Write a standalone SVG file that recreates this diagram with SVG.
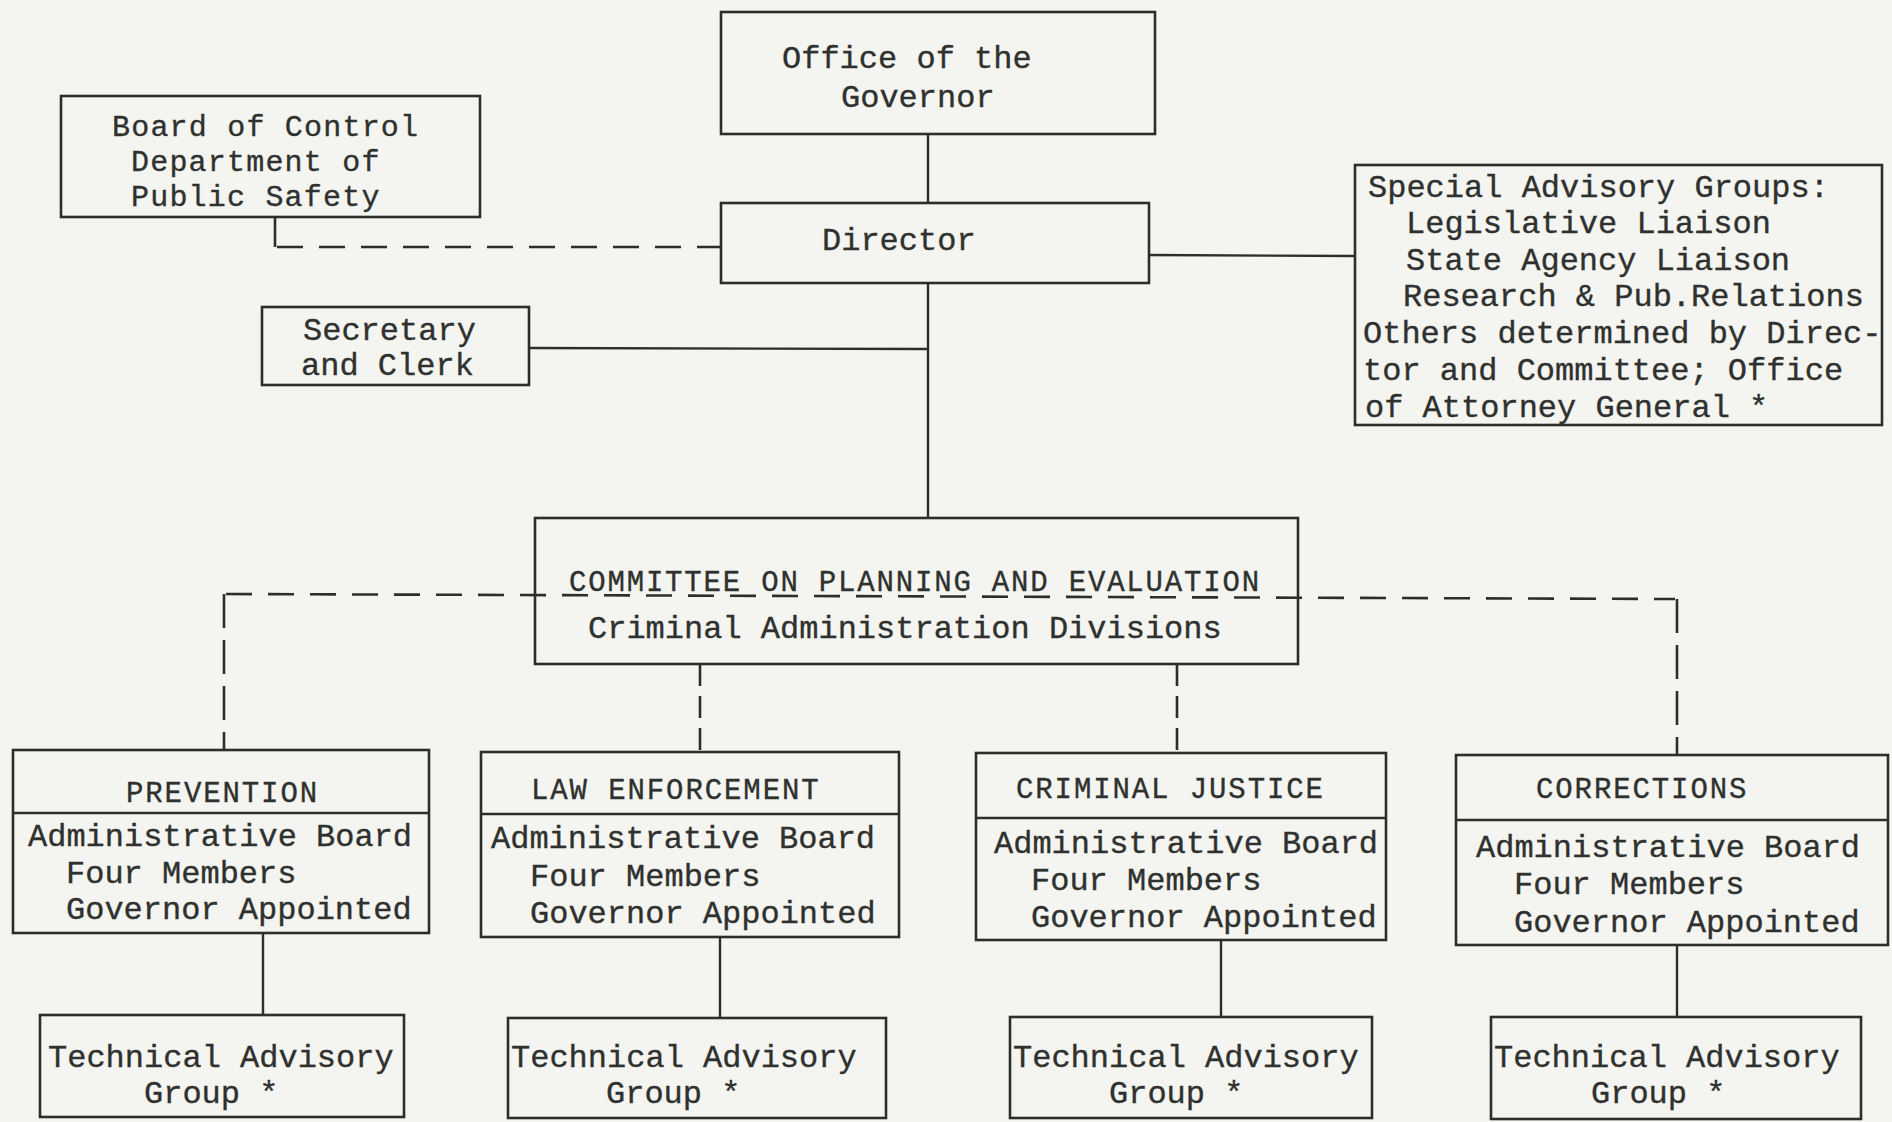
<svg xmlns="http://www.w3.org/2000/svg" width="1892" height="1122" viewBox="0 0 1892 1122">
<style>
.box{fill:none;stroke:#2b2f2b;stroke-width:2.6}
.ln{fill:none;stroke:#2b2f2b;stroke-width:2.4}
.dh{fill:none;stroke:#2b2f2b;stroke-width:2.6;stroke-dasharray:26 16}
.dv{fill:none;stroke:#2b2f2b;stroke-width:2.6;stroke-dasharray:34 12}
.dvs{fill:none;stroke:#2b2f2b;stroke-width:2.6;stroke-dasharray:22 10}
text{font-family:"Liberation Mono","Courier New",monospace;font-size:32px;fill:#2e312e;stroke:#2e312e;stroke-width:0.35}
.cap{font-size:29px;letter-spacing:1.9px}
.sm{font-size:30px;letter-spacing:1.2px}
</style>
<rect width="1892" height="1122" fill="#f4f4f1"/>
<g id="connectors">
<line class="ln" x1="928" y1="134" x2="928" y2="203"/>
<line class="ln" x1="928" y1="283" x2="928" y2="518"/>
<line class="ln" x1="529" y1="348" x2="928" y2="349"/>
<line class="ln" x1="1149" y1="255" x2="1355" y2="256"/>
<path class="dv" d="M275,218 V247"/>
<path class="dh" d="M277,247 H721"/>
<path class="dh" d="M226,594 L1675,599"/>
<path class="dv" d="M224,594 V750"/>
<path class="dv" d="M1677,599 V755"/>
<path class="dvs" d="M700,664 V752"/>
<path class="dvs" d="M1177,664 V753"/>
<line class="ln" x1="263" y1="933" x2="263" y2="1015"/>
<line class="ln" x1="720" y1="937" x2="720" y2="1018"/>
<line class="ln" x1="1221" y1="940" x2="1221" y2="1017"/>
<line class="ln" x1="1677" y1="945" x2="1677" y2="1017"/>
</g>
<g id="governor">
<rect class="box" x="721" y="12" width="434" height="122"/>
<text x="782" y="68">Office of the</text>
<text x="841" y="107">Governor</text>
</g>
<g id="board">
<rect class="box" x="61" y="96" width="419" height="121"/>
<text x="112" y="136" class="sm">Board of Control</text>
<text x="131" y="171" class="sm">Department of</text>
<text x="131" y="206" class="sm">Public Safety</text>
</g>
<g id="director">
<rect class="box" x="721" y="203" width="428" height="80"/>
<text x="822" y="250">Director</text>
</g>
<g id="special">
<rect class="box" x="1355" y="165" width="527" height="260"/>
<text x="1368" y="197">Special Advisory Groups:</text>
<text x="1406" y="233">Legislative Liaison</text>
<text x="1406" y="270">State Agency Liaison</text>
<text x="1403" y="306">Research &amp; Pub.Relations</text>
<text x="1363" y="343">Others determined by Direc-</text>
<text x="1363" y="380">tor and Committee; Office</text>
<text x="1365" y="417">of Attorney General *</text>
</g>
<g id="secretary">
<rect class="box" x="262" y="307" width="267" height="78"/>
<text x="303" y="340">Secretary</text>
<text x="301" y="375">and Clerk</text>
</g>
<g id="committee">
<rect class="box" x="535" y="518" width="763" height="146"/>
<text x="569" y="591" class="cap" textLength="692">COMMITTEE ON PLANNING AND EVALUATION</text>
<text x="588" y="638">Criminal Administration Divisions</text>
</g>
<g id="prevention">
<rect class="box" x="13" y="750" width="416" height="183"/>
<line class="box" x1="13" y1="813" x2="429" y2="813"/>
<text x="126" y="802" class="cap">PREVENTION</text>
<text x="28" y="846">Administrative Board</text>
<text x="66" y="883">Four Members</text>
<text x="66" y="919">Governor Appointed</text>
</g>
<g id="law">
<rect class="box" x="481" y="752" width="418" height="185"/>
<line class="box" x1="481" y1="814" x2="899" y2="814"/>
<text x="531" y="799" class="cap">LAW ENFORCEMENT</text>
<text x="491" y="848">Administrative Board</text>
<text x="530" y="886">Four Members</text>
<text x="530" y="923">Governor Appointed</text>
</g>
<g id="criminal-justice">
<rect class="box" x="976" y="753" width="410" height="187"/>
<line class="box" x1="976" y1="818" x2="1386" y2="818"/>
<text x="1016" y="798" class="cap">CRIMINAL JUSTICE</text>
<text x="994" y="853">Administrative Board</text>
<text x="1031" y="890">Four Members</text>
<text x="1031" y="927">Governor Appointed</text>
</g>
<g id="corrections">
<rect class="box" x="1456" y="755" width="432" height="190"/>
<line class="box" x1="1456" y1="820" x2="1888" y2="820"/>
<text x="1536" y="798" class="cap">CORRECTIONS</text>
<text x="1476" y="857">Administrative Board</text>
<text x="1514" y="894">Four Members</text>
<text x="1514" y="932">Governor Appointed</text>
</g>
<g id="tech-prevention">
<rect class="box" x="40" y="1015" width="364" height="102"/>
<text x="48" y="1067">Technical Advisory</text>
<text x="144" y="1103">Group *</text>
</g>
<g id="tech-law">
<rect class="box" x="508" y="1018" width="378" height="100"/>
<text x="511" y="1067">Technical Advisory</text>
<text x="606" y="1103">Group *</text>
</g>
<g id="tech-criminal-justice">
<rect class="box" x="1010" y="1017" width="362" height="101"/>
<text x="1013" y="1067">Technical Advisory</text>
<text x="1109" y="1103">Group *</text>
</g>
<g id="tech-corrections">
<rect class="box" x="1491" y="1017" width="370" height="102"/>
<text x="1494" y="1067">Technical Advisory</text>
<text x="1591" y="1103">Group *</text>
</g>
</svg>
